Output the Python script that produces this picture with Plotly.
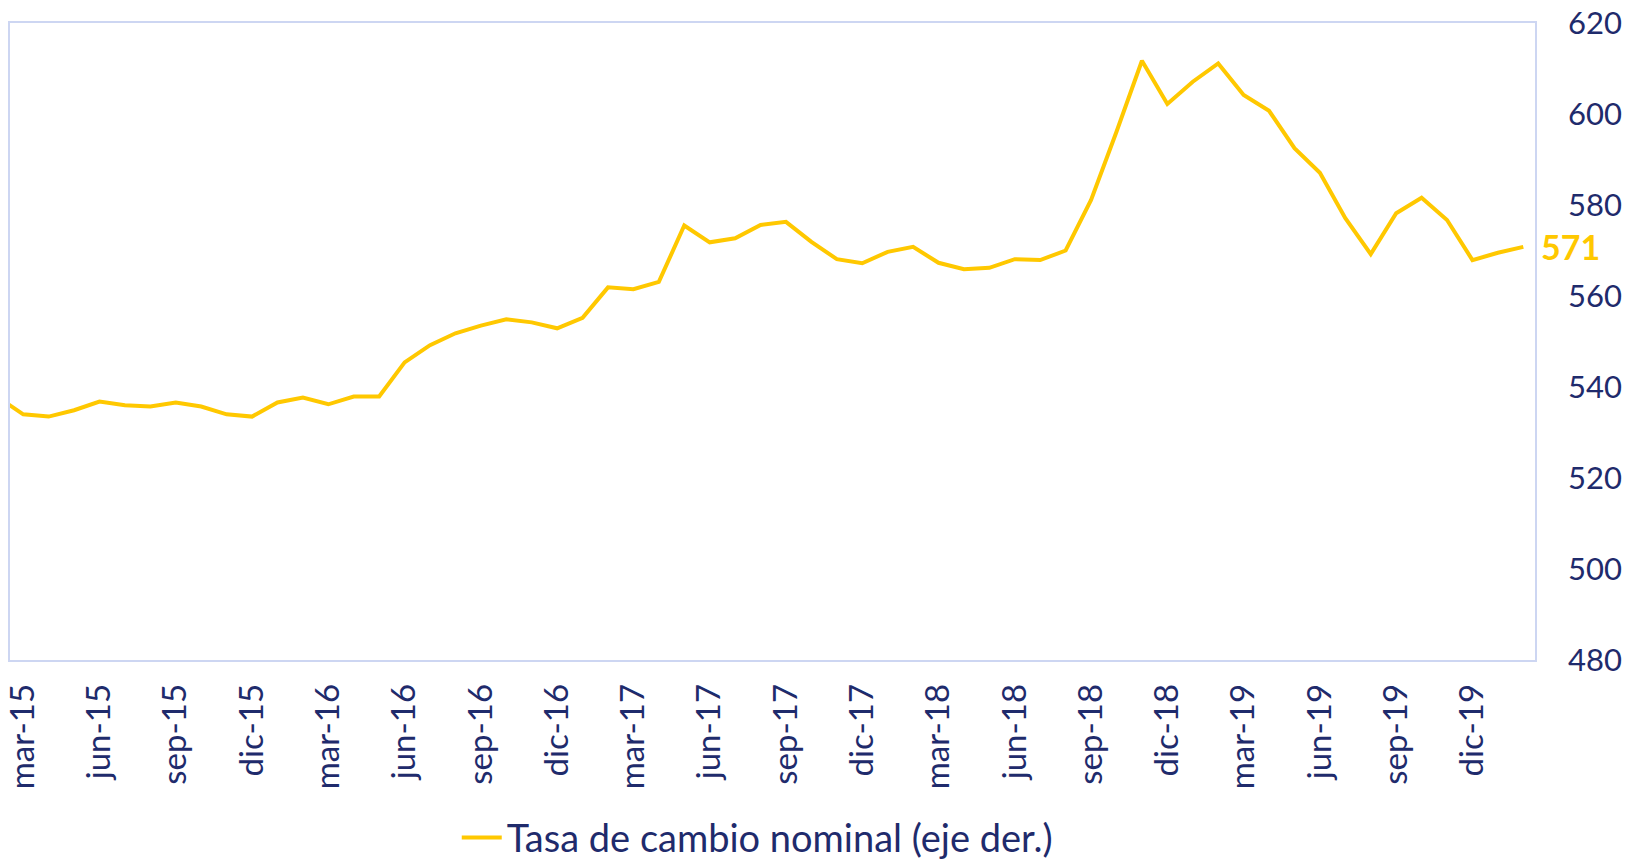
import plotly.graph_objects as go

# Spanish month abbreviations and years covered (feb-15 .. feb-20)
MESES = ["ene", "feb", "mar", "abr", "may", "jun", "jul", "ago", "sep", "oct", "nov", "dic"]
YEARS = [15, 16, 17, 18, 19, 20]

MONTHS = [f"{m}-{y}" for y in YEARS for m in MESES]
MONTHS = MONTHS[MONTHS.index("feb-15"):MONTHS.index("feb-20") + 1]

# Tasa de cambio nominal (CLP/USD), monthly
TASA = [
    537.8, 534.0, 533.5, 534.9, 536.8, 536.0, 535.7, 536.6, 535.7, 534.0, 533.5,
    536.6, 537.7, 536.2, 537.9, 537.9, 545.4, 549.2, 551.8, 553.5, 554.9, 554.2, 552.9,
    555.2, 561.9, 561.5, 563.1, 575.5, 571.8, 572.7, 575.6, 576.3, 571.9, 568.1, 567.2,
    569.7, 570.8, 567.3, 565.9, 566.2, 568.1, 567.9, 570.0, 581.1, 596.1, 611.7, 602.2,
    607.1, 611.1, 604.2, 600.7, 592.5, 587.1, 577.1, 569.2, 578.2, 581.6, 576.7, 567.9,
    569.5, 570.8,
]

TICK_LABELS = [m for m in MONTHS if m.split("-")[0] in ("mar", "jun", "sep", "dic")]
Y_TICKS = [480, 500, 520, 540, 560, 580, 600, 620]

GOLD = "#FFC800"
NAVY = "#1F2B6C"
BORDER = "#CDD6F2"
FONT = "Lato, Open Sans, sans-serif"

fig = go.Figure()
fig.add_trace(
    go.Scatter(
        x=MONTHS,
        y=TASA,
        mode="lines",
        name="Tasa de cambio nominal (eje der.)",
        line=dict(color=GOLD, width=4),
    )
)

fig.add_annotation(
    x=MONTHS[-1],
    y=TASA[-1],
    text=f"<b>{TASA[-1]:.0f}</b>",
    showarrow=False,
    xanchor="left",
    yanchor="middle",
    xshift=16,
    font=dict(family=FONT, size=34, color=GOLD, weight="bold"),
)

# page body has an 8px margin, so the figure is sized to fit inside it
fig.update_layout(
    width=1626,
    height=851,
    margin=dict(l=2, r=99, t=15, b=199, autoexpand=False),
    plot_bgcolor="white",
    paper_bgcolor="white",
    font=dict(family=FONT, size=30, color=NAVY),
    showlegend=True,
    legend=dict(
        orientation="h",
        x=0.49,
        xanchor="center",
        y=-0.279,
        yanchor="middle",
        font=dict(family=FONT, size=38, color=NAVY),
        itemwidth=40,
    ),
)

fig.update_xaxes(
    type="category",
    categoryorder="array",
    categoryarray=MONTHS,
    range=[0.48, len(MONTHS) - 0.54],
    tickmode="array",
    tickvals=TICK_LABELS,
    ticktext=TICK_LABELS,
    tickangle=-90,
    ticks="",
    ticklabelstandoff=9,
    ticklabeloverflow="allow",
    automargin=False,
    showgrid=False,
    zeroline=False,
    showline=True,
    mirror=True,
    linecolor=BORDER,
    linewidth=1.5,
    tickfont=dict(family=FONT, size=33, color=NAVY),
)

fig.update_yaxes(
    side="right",
    range=[480, 620],
    tickmode="array",
    tickvals=Y_TICKS,
    ticks="",
    ticklabelstandoff=25,
    ticklabeloverflow="allow",
    automargin=False,
    showgrid=False,
    zeroline=False,
    showline=True,
    mirror=True,
    linecolor=BORDER,
    linewidth=1.5,
    tickfont=dict(family=FONT, size=31, color=NAVY),
)

fig.write_html("out.html")
